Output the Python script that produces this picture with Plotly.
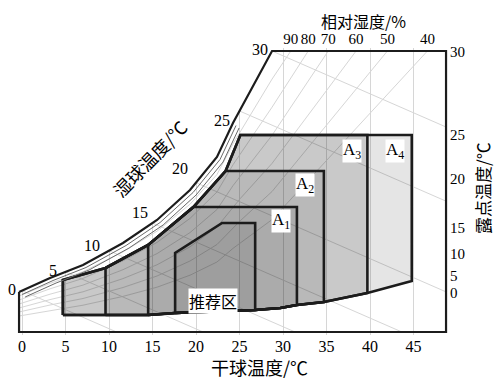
import numpy as np
import plotly.graph_objects as go

# ---------------- data ----------------
# saturation curve (dry-bulb temperature °C, humidity ratio g/kg)
sat_T = [-0.34, 3.22, 7.01, 11.61, 15.52, 19.31, 22.41, 24.25, 25.06, 28.74]
sat_w = [4.0, 5.4, 6.7, 8.9, 11.2, 14.2, 17.5, 20.9, 22.2, 28.1]

# chart frame limits
frame_T = [-0.34, 48.74]
frame_w_top = 28.1

# lower boundary of the zones
bot_T = [4.7, 9.6, 14.5, 17.6, 23.9, 26.8, 29.7, 31.6, 34.7, 39.7, 44.8]
bot_w = [1.7, 1.7, 1.7, 1.9, 2.1, 2.2, 2.4, 2.7, 3.0, 3.9, 5.1]

# upper-left (humid) limit of the zones
lim_T = [4.7, 9.6, 14.5, 19.7, 23.4, 25.1]
lim_w = [5.2, 6.4, 8.7, 12.5, 16.1, 19.7]

# zones: name, left dry-bulb, right dry-bulb, top humidity ratio
zone_names = ["A4", "A3", "A2", "A1"]
zone_left = [4.7, 4.7, 9.6, 14.5]
zone_right = [44.8, 39.7, 34.7, 31.6]
zone_top = [19.7, 19.7, 16.1, 12.5]

# recommended zone
rec_T = [17.6, 26.8, 26.8, 23.0, 17.6]
rec_w = [1.9, 2.2, 10.9, 10.9, 7.9]

# axis ticks
db_ticks = [0, 5, 10, 15, 20, 25, 30, 35, 40, 45]
dew_labels = [30, 25, 20, 15, 10, 5, 0]
dew_w = [28.0, 19.7, 15.3, 10.4, 7.85, 5.6, 3.9]
rh_labels = [90, 80, 70, 60, 50, 40]
rh_top_T = [30.9, 32.9, 35.2, 38.4, 42.0, 46.6]
wb_labels = [0, 5, 10, 15, 20, 25, 30]
wb_slope = -0.38  # slope of the faint wet-bulb lines (g/kg per °C)

# ---------------- styling ----------------
SERIF = "Liberation Serif, Noto Sans CJK SC"
CJK = "Noto Sans CJK SC, Liberation Serif"
DARK = "#1c1c1c"
FAINT = "#d6d6d6"
zone_alpha = [0.10, 0.12, 0.08, 0.07]
rec_alpha = 0.07
BODY = 8  # default page body margin of the html page


def zone_polygon(L, R, H):
    bT = [L] + [t for t in bot_T if L < t < R] + [R]
    bw = list(np.interp(bT, bot_T, bot_w))
    xs = bT + [R]
    ys = bw + [H]
    t_top = float(np.interp(H, lim_w, lim_T))
    xs.append(t_top)
    ys.append(H)
    inner = [(t, w) for t, w in zip(lim_T, lim_w) if L < t < t_top and w < H]
    for t, w in reversed(inner):
        xs.append(t)
        ys.append(w)
    xs.append(L)
    ys.append(float(np.interp(L, lim_T, lim_w)))
    xs.append(xs[0])
    ys.append(ys[0])
    return xs, ys


fig = go.Figure()

# faint relative-humidity curves (fractions of the saturation curve, ending at top labels)
for rh, t_top in zip(rh_labels, rh_top_T):
    r = rh / 100.0
    xs = list(sat_T) + [t_top]
    ys = [r * w for w in sat_w] + [frame_w_top]
    fig.add_trace(go.Scatter(x=xs, y=ys, mode="lines",
                             line=dict(color=FAINT, width=1),
                             showlegend=False, hoverinfo="skip"))

# faint wet-bulb lines from the saturation curve
for t in wb_labels:
    T0 = min(t, sat_T[-1])
    w0 = float(np.interp(T0, sat_T, sat_w))
    T1 = T0 - w0 / wb_slope
    if T1 > frame_T[1]:
        T1 = frame_T[1]
    w1 = w0 + wb_slope * (T1 - T0)
    fig.add_trace(go.Scatter(x=[T0, T1], y=[w0, w1], mode="lines",
                             line=dict(color=FAINT, width=1),
                             showlegend=False, hoverinfo="skip"))

# white cover above saturation curve (hides grid there)
cov_x = list(sat_T) + [sat_T[-1], -5, -5, sat_T[0]]
cov_y = list(sat_w) + [40, 40, sat_w[0], sat_w[0]]
fig.add_trace(go.Scatter(x=cov_x, y=cov_y, fill="toself", fillcolor="white",
                         line=dict(width=0), mode="lines", hoverinfo="skip",
                         showlegend=False))

# zones
for name, L, R, H, a in zip(zone_names, zone_left, zone_right, zone_top, zone_alpha):
    xs, ys = zone_polygon(L, R, H)
    fig.add_trace(go.Scatter(x=xs, y=ys, fill="toself",
                             fillcolor=f"rgba(0,0,0,{a})",
                             line=dict(color=DARK, width=2.6), mode="lines",
                             name=name, showlegend=False, hoverinfo="skip"))

rx = rec_T + [rec_T[0]]
ry = rec_w + [rec_w[0]]
fig.add_trace(go.Scatter(x=rx, y=ry, fill="toself",
                         fillcolor=f"rgba(0,0,0,{rec_alpha})",
                         line=dict(color=DARK, width=2.6), mode="lines",
                         showlegend=False, hoverinfo="skip"))

# thin curves just inside the saturation curve
for dT, dw in [(0.35, -0.25), (0.7, -0.5)]:
    tt = [t + dT for t in sat_T[:-2]]
    ww = [w + dw for w in sat_w[:-2]]
    fig.add_trace(go.Scatter(x=tt, y=ww, mode="lines",
                             line=dict(color="#6a6a6a", width=1),
                             showlegend=False, hoverinfo="skip"))

# saturation curve + frame
fx = list(sat_T) + [frame_T[1], frame_T[1], frame_T[0], frame_T[0]]
fy = list(sat_w) + [frame_w_top, 0, 0, sat_w[0]]
fig.add_trace(go.Scatter(x=fx, y=fy, mode="lines",
                         line=dict(color=DARK, width=2.2),
                         showlegend=False, hoverinfo="skip"))

# invisible trace on top axis
fig.add_trace(go.Scatter(x=[rh_top_T[0]], y=[dew_w[0]], xaxis="x2", mode="markers",
                         marker=dict(opacity=0), showlegend=False, hoverinfo="skip"))

anns = []
C = dict(xanchor="center", yanchor="middle", showarrow=False)
# zone labels
zone_lab_pos = {"A1": (29.8, 11.1), "A2": (32.5, 14.7), "A3": (37.9, 18.1), "A4": (42.9, 18.1)}
for name in zone_names:
    x, y = zone_lab_pos[name]
    anns.append(dict(x=x, y=y, text=f"A<sub>{name[1]}</sub>",
                     font=dict(family=SERIF, size=17, color="black"),
                     bgcolor="white", borderpad=0, **C))
anns.append(dict(x=21.95, y=3.1, text="推荐区",
                 font=dict(family="Noto Sans CJK SC", size=16, color="black"),
                 bgcolor="white", borderpad=0, **C))

# wet-bulb labels along the saturation curve
wb_pos = [(-0.0092, 0.1568), (3.56, 6.2), (8.05, 8.7), (13.56, 12.0),
          (18.16, 16.4), (22.99, 21.2), (27.36, 28.3)]
for i, (lab, (x, y)) in enumerate(zip(wb_labels, wb_pos)):
    ref = dict(xref="paper", yref="paper") if i == 0 else {}
    anns.append(dict(x=x, y=y, text=str(lab),
                     font=dict(family=SERIF, size=16, color="black"), **ref, **C))

# titles (paper coordinates)
P = dict(xref="paper", yref="paper")
anns.append(dict(x=0.8014, y=1.0958, text="相对湿度/%",
                 font=dict(family=CJK, size=16, color="black"), **P, **C))
anns.append(dict(x=0.5635, y=-0.1115, text="干球温度/℃",
                 font=dict(family=CJK, size=18, color="black"), **P, **C))
anns.append(dict(x=1.0785, y=0.5122, text="露点温度/℃", textangle=-90,
                 font=dict(family=CJK, size=17, color="black"), **P, **C))
anns.append(dict(x=14.7, y=17.4, text="湿球温度/℃", textangle=-46,
                 font=dict(family=CJK, size=18, color="black"), **C))

xr = [-0.69, 49.08]
fig.update_layout(
    width=502 - BODY, height=385 - BODY,
    margin=dict(l=16 - BODY, r=53, t=48 - BODY, b=50),
    paper_bgcolor="white", plot_bgcolor="white",
    showlegend=False,
    xaxis=dict(range=xr, tickvals=db_ticks, ticktext=[str(v) for v in db_ticks],
               showgrid=True, gridcolor=FAINT, gridwidth=1,
               zeroline=False, showline=False, ticks="", tickangle=0, automargin=False,
               tickfont=dict(family=SERIF, size=16, color="black"), fixedrange=True),
    xaxis2=dict(range=xr, overlaying="x", side="top", tickvals=rh_top_T,
                ticktext=[str(v) for v in rh_labels], showgrid=False,
                zeroline=False, showline=False, ticks="", tickangle=0, automargin=False,
                tickfont=dict(family=SERIF, size=15, color="black")),
    yaxis=dict(range=[-0.3, 28.4], side="right", tickvals=dew_w,
               ticktext=[str(v) for v in dew_labels], showgrid=False,
               zeroline=False, showline=False, ticks="", automargin=False,
               tickfont=dict(family=SERIF, size=15, color="black")),
    annotations=anns,
)

fig.write_html("out.html")
